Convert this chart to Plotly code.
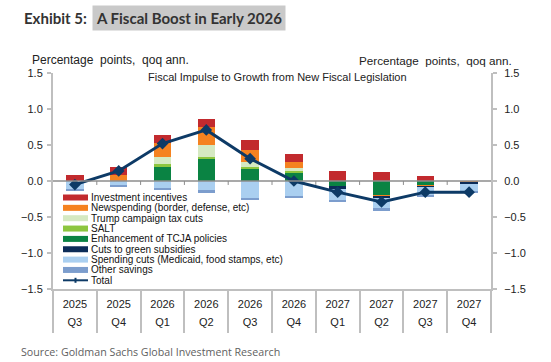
import plotly.graph_objects as go

# ---------------- data ----------------
years = ["2025", "2025", "2026", "2026", "2026", "2026", "2027", "2027", "2027", "2027"]
quarters = ["Q3", "Q4", "Q1", "Q2", "Q3", "Q4", "Q1", "Q2", "Q3", "Q4"]

investment = [0.08, 0.12, 0.11, 0.11, 0.14, 0.12, 0.14, 0.13, 0.065, 0.0]
newspending = [0.0, 0.08, 0.19, 0.25, 0.17, 0.08, 0.0, -0.03, -0.01, -0.01]
trump_cuts = [0.0, 0.0, 0.10, 0.17, 0.06, 0.035, 0.0, 0.0, 0.0, 0.0]
salt = [0.0, 0.0, 0.05, 0.03, 0.03, 0.025, 0.0, 0.0, 0.0, 0.0]
tcja = [0.0, 0.0, 0.19, 0.30, 0.17, 0.12, -0.065, -0.19, -0.06, 0.0]
green_cuts = [0.0, 0.0, 0.0, 0.0, 0.0, 0.0, -0.05, -0.01, -0.02, -0.03]
spending_cuts = [-0.115, -0.065, -0.10, -0.13, -0.24, -0.215, -0.15, -0.145, -0.11, -0.11]
other_savings = [-0.025, -0.02, -0.03, -0.03, -0.03, -0.025, -0.025, -0.035, -0.02, -0.015]
total = [-0.05, 0.14, 0.52, 0.71, 0.31, 0.0, -0.155, -0.29, -0.155, -0.155]

y_ticks = [-1.5, -1.0, -0.5, 0.0, 0.5, 1.0, 1.5]

# ---------------- styles ----------------
names = {
    "inv": "Investment incentives",
    "new": "Newspending (border, defense, etc)",
    "trump": "Trump campaign tax cuts",
    "salt": "SALT",
    "tcja": "Enhancement of TCJA policies",
    "green": "Cuts to green subsidies",
    "spend": "Spending cuts (Medicaid, food stamps, etc)",
    "other": "Other savings",
    "total": "Total",
}
colors = {
    "inv": "#C22A2E",
    "new": "#F58220",
    "trump": "#D5E9C2",
    "salt": "#8DC63F",
    "tcja": "#0A8343",
    "green": "#0C2C58",
    "spend": "#AACFF0",
    "other": "#7C9DCD",
    "total": "#0D3A66",
}
# stacking order (first = closest to zero)
stack = [("tcja", tcja), ("salt", salt), ("trump", trump_cuts), ("new", newspending),
         ("inv", investment), ("green", green_cuts), ("spend", spending_cuts),
         ("other", other_savings)]
legend_order = ["inv", "new", "trump", "salt", "tcja", "green", "spend", "other", "total"]

FONT = "Liberation Sans, Arial, sans-serif"
W, H = 551, 362
ML, MR, MT, MB = 53, 60, 73, 73
PW, PH = W - ML - MR, H - MT - MB

def px_x(x):
    return (x - ML) / PW

def px_y(y):
    return (H - MB - y) / PH

xs = list(range(len(years)))
xr = [-0.5, len(xs) - 0.5]

fig = go.Figure()
for key, vals in stack:
    fig.add_trace(go.Bar(
        x=xs, y=vals, name=names[key], marker=dict(color=colors[key], line=dict(width=0)),
        width=0.4, showlegend=False,
    ))
fig.add_trace(go.Scatter(
    x=xs, y=total, name=names["total"], mode="lines+markers",
    line=dict(color=colors["total"], width=3),
    marker=dict(symbol="diamond", size=9, color=colors["total"]),
    showlegend=False,
))
# invisible carrier so the secondary (right / quarter) axes are drawn
fig.add_trace(go.Scatter(
    x=xs, y=total, xaxis="x2", yaxis="y2", mode="lines", opacity=0,
    line=dict(width=0), hoverinfo="skip", showlegend=False,
))

axis_gray = "#BFBFBF"
fig.update_layout(
    width=W, height=H, margin=dict(l=ML, r=MR, t=MT, b=MB, autoexpand=False),
    paper_bgcolor="white", plot_bgcolor="white",
    barmode="relative", bargap=0,
    font=dict(family=FONT, size=11, color="#222222"),
    xaxis=dict(
        range=xr, tickmode="array", tickvals=xs, ticktext=years,
        ticks="", showline=True, linecolor=axis_gray, linewidth=1.5, showgrid=False,
        zeroline=False, ticklabelstandoff=4, tickfont=dict(size=11),
        minor=dict(tick0=0.5, dtick=1, ticks="outside", ticklen=42, tickcolor=axis_gray,
                   tickwidth=1.5, showgrid=False),
    ),
    xaxis2=dict(
        overlaying="x", anchor="y2", side="bottom", range=xr,
        tickmode="array", tickvals=xs, ticktext=quarters, ticks="", showline=False,
        showgrid=False, zeroline=False, ticklabelstandoff=25, tickfont=dict(size=11),
    ),
    yaxis=dict(
        range=[-1.5, 1.5], tickmode="array", tickvals=y_ticks, tickformat=".1f",
        ticks="outside", ticklen=4, tickcolor=axis_gray, tickwidth=1.5,
        showline=True, linecolor=axis_gray, linewidth=2, showgrid=False,
        zeroline=False, ticklabelstandoff=2,
    ),
    yaxis2=dict(
        overlaying="y", anchor="x", side="right", range=[-1.5, 1.5], tickmode="array",
        tickvals=y_ticks, tickformat=".1f", ticks="outside", ticklen=4,
        tickcolor=axis_gray, tickwidth=1.5, showline=True, linecolor=axis_gray,
        linewidth=2, showgrid=False, zeroline=False, ticklabelstandoff=5,
    ),
)

ann = []
shapes = []
# zero line with small category-boundary ticks
shapes.append(dict(type="line", xref="paper", yref="y", x0=0, x1=1, y0=0, y1=0,
                   line=dict(color="#8C8C8C", width=1.5), layer="above"))
for i in xs[:-1]:
    shapes.append(dict(type="line", xref="x", yref="y", x0=i + 0.5, x1=i + 0.5,
                       y0=0, y1=-0.055, line=dict(color="#8C8C8C", width=1), layer="above"))

# title
ann.append(dict(text="<b>Exhibit 5:</b>", x=px_x(22), y=px_y(17.5), xref="paper", yref="paper",
                xanchor="left", yanchor="middle", showarrow=False,
                font=dict(family="Lato, sans-serif", size=15, color="#333333")))
ann.append(dict(text="<b>A Fiscal Boost in Early 2026</b>", x=px_x(92), y=px_y(17.5),
                xref="paper", yref="paper", xanchor="left", yanchor="middle",
                showarrow=False, bgcolor="#C9C9C9", borderpad=3,
                font=dict(family="Lato, sans-serif", size=15, color="#333333")))
# unit labels
ann.append(dict(text="Percentage  points,  qoq ann.", x=px_x(30), y=px_y(60), xref="paper",
                yref="paper", xanchor="left", yanchor="middle", showarrow=False,
                font=dict(size=12)))
ann.append(dict(text="Percentage  points,  qoq ann.", x=px_x(514), y=px_y(60), xref="paper",
                yref="paper", xanchor="right", yanchor="middle", showarrow=False,
                font=dict(size=11.7)))
ann.append(dict(text="Fiscal Impulse to Growth from New Fiscal Legislation", x=px_x(277.5),
                y=px_y(77), xref="paper", yref="paper", xanchor="center", yanchor="middle",
                showarrow=False, font=dict(size=11)))
# source
ann.append(dict(text="Source: Goldman Sachs Global Investment Research", x=px_x(19),
                y=px_y(352), xref="paper", yref="paper", xanchor="left", yanchor="middle",
                showarrow=False, font=dict(family="Open Sans, sans-serif", size=10.7, color="#5F5F5F")))

# manual legend
lg_x0, lg_w, lg_y0, lg_dy = 63, 25, 197.5, 10.35
for i, key in enumerate(legend_order):
    yc = lg_y0 + i * lg_dy
    if key == "total":
        shapes.append(dict(type="line", xref="paper", yref="paper",
                           x0=px_x(lg_x0), x1=px_x(lg_x0 + lg_w), y0=px_y(yc), y1=px_y(yc),
                           line=dict(color=colors[key], width=2)))
        xm = lg_x0 + lg_w / 2
        shapes.append(dict(type="line", xref="paper", yref="paper",
                           x0=px_x(xm), x1=px_x(xm), y0=px_y(yc - 2.5), y1=px_y(yc + 2.5),
                           line=dict(color=colors[key], width=2)))
    else:
        shapes.append(dict(type="rect", xref="paper", yref="paper",
                           x0=px_x(lg_x0), x1=px_x(lg_x0 + lg_w), y0=px_y(yc - 3), y1=px_y(yc + 3),
                           fillcolor=colors[key], line=dict(width=0)))
    ann.append(dict(text=names[key], x=px_x(lg_x0 + lg_w + 1), y=px_y(yc), xref="paper",
                    yref="paper", xanchor="left", yanchor="middle", showarrow=False,
                    font=dict(size=10, color="#111111")))

fig.update_layout(annotations=ann, shapes=shapes)
fig.write_html("out.html", post_script="document.body.style.margin='0';",
               config={"displayModeBar": False})
